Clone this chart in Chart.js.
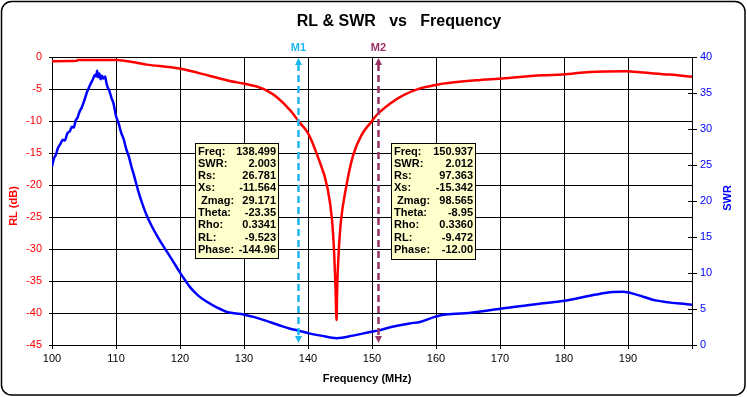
<!DOCTYPE html>
<html>
<head>
<meta charset="utf-8">
<script src="https://cdn.jsdelivr.net/npm/chart.js@4/dist/chart.umd.min.js"></script>
<style>
  html, body { margin: 0; padding: 0; background: #fff; }
  canvas { display: block; }
</style>
</head>
<body>
<canvas id="chart" width="747" height="397"></canvas>
<script>
  // return loss (dB) vs frequency (MHz)
  const rlFreq = [100, 103.9, 104, 110, 114.8, 119.9, 124.7, 127.8, 129.9, 132.2, 133.5, 135.1, 137.2,
    138.58, 140.04, 141.44, 143.06, 143.78, 144.1, 144.3, 144.46, 144.56, 144.77, 145.14, 145.92,
    147.06, 148.36, 149.92, 150.7, 152.8, 154.85, 157.5, 159.8, 161.1, 166.3, 169.8, 176.7, 179.8,
    184.0, 189.7, 192.3, 196.5, 200];
  const rlValues = [-0.65, -0.6, -0.46, -0.46, -1.19, -1.81, -2.96, -3.74, -4.15, -4.68, -5.2, -6.24, -8.3,
    -10.1, -11.96, -15.34, -20.54, -25.74, -30.94, -36.1, -41.1, -36.1, -30.94, -25.74, -20.54,
    -15.34, -12.2, -10.1, -9.1, -7.3, -6.0, -4.9, -4.4, -4.16, -3.64, -3.38, -2.86, -2.75,
    -2.34, -2.23, -2.44, -2.75, -3.1];

  // SWR vs frequency (MHz)
  const swrFreq = [100, 100.3, 100.6, 100.9, 101.3, 101.7, 102.0, 102.4, 102.8, 103.1, 103.4, 103.7, 104.0,
    104.3, 104.6, 104.9, 105.2, 105.5, 105.8, 106.1, 106.4, 106.7, 106.9, 107.05, 107.2, 107.4, 107.6,
    107.8, 108.0, 108.3, 108.5, 108.7, 109.0, 109.3, 109.6, 110.0, 110.4, 110.8, 111.2, 111.6, 112.0,
    112.4, 112.8, 113.5, 114.2, 114.8, 115.6, 116.4, 117.2, 118.0, 119.0, 119.9, 120.8, 121.6, 122.8,
    124.2, 125.8, 127.3, 128.5, 129.9, 131.5, 133.5, 135.6, 137.2, 138.5, 140.0, 142.0, 144.5, 147.0,
    149.9, 150.9, 153.0, 155.9, 157.5, 159.8, 161.1, 164.5, 169.8, 176.7, 179.8, 185.0, 187.6, 189.2,
    191.3, 194.3, 200];
  const swrValues = [24.8, 25.9, 26.4, 27.3, 27.9, 28.5, 28.4, 29.4, 29.7, 30.3, 30.2, 31.2, 31.6,
    32.4, 32.9, 33.6, 34.4, 35.2, 35.8, 36.4, 36.9, 37.5, 37.3, 38.1, 37.2, 37.7, 36.9,
    37.4, 37.0, 37.3, 36.4, 35.8, 35.2, 34.3, 33.6, 31.8, 30.8, 29.5, 28.6, 27.2, 26.2,
    24.8, 23.6, 21.3, 19.4, 18.0, 16.5, 15.2, 14.0, 12.9, 11.5, 10.2, 9.0, 8.0, 6.9,
    6.0, 5.2, 4.6, 4.4, 4.25, 3.9, 3.35, 2.7, 2.25, 2.0, 1.65, 1.3, 0.95, 1.3,
    1.85, 2.0, 2.5, 3.0, 3.2, 3.9, 4.2, 4.4, 5.0, 5.8, 6.1, 7.0, 7.35, 7.4,
    7.0, 6.2, 5.6];

  // markers and their readouts
  const markerNames = ['M1', 'M2'];
  const markerFreqs = [138.499, 150.937];
  const markerColors = ['#1DB6EE', '#993366'];
  const readoutLabels = ['Freq:', 'SWR:', 'Rs:', 'Xs:', ' Zmag:', 'Theta:', 'Rho:', 'RL:', 'Phase:'];
  const m1Readout = ['138.499', '2.003', '26.781', '-11.564', '29.171', '-23.35', '0.3341', '-9.523', '-144.96'];
  const m2Readout = ['150.937', '2.012', '97.363', '-15.342', '98.565', '-8.95', '0.3360', '-9.472', '-12.00'];

  const FONT = 'Arial, "Liberation Sans", sans-serif';

  const overlay = {
    id: 'overlay',
    beforeDraw(chart) {
      const ctx = chart.ctx;
      ctx.save();
      ctx.fillStyle = '#fff';
      ctx.fillRect(0, 0, chart.width, chart.height);
      ctx.restore();
    },
    afterDatasetsDraw(chart) {
      const ctx = chart.ctx;
      const area = chart.chartArea;
      const xs = chart.scales.x;
      ctx.save();

      // SWR axis ticks also poke into the plot a little
      const y2 = chart.scales.y2;
      ctx.strokeStyle = '#000';
      ctx.lineWidth = 1;
      y2.ticks.forEach(t => {
        const y = Math.round(y2.getPixelForValue(t.value)) + 0.5;
        ctx.beginPath();
        ctx.moveTo(area.right - 4, y);
        ctx.lineTo(area.right, y);
        ctx.stroke();
      });

      markerFreqs.forEach((f, i) => {
        const x = Math.round(xs.getPixelForValue(f)) + 0.5;
        ctx.strokeStyle = markerColors[i];
        ctx.fillStyle = markerColors[i];
        ctx.lineWidth = 2.5;
        ctx.setLineDash([7, 4]);
        ctx.beginPath();
        ctx.moveTo(x, area.top + 7);
        ctx.lineTo(x, area.bottom - 7);
        ctx.stroke();
        ctx.setLineDash([]);
        // arrow heads
        ctx.beginPath();
        ctx.moveTo(x, area.top + 1);
        ctx.lineTo(x - 3.5, area.top + 8);
        ctx.lineTo(x + 3.5, area.top + 8);
        ctx.closePath();
        ctx.fill();
        ctx.beginPath();
        ctx.moveTo(x, area.bottom - 2);
        ctx.lineTo(x - 3.5, area.bottom - 9);
        ctx.lineTo(x + 3.5, area.bottom - 9);
        ctx.closePath();
        ctx.fill();
        ctx.font = 'bold 11px ' + FONT;
        ctx.textAlign = 'center';
        ctx.textBaseline = 'middle';
        ctx.fillText(markerNames[i], x, area.top - 9);
      });

      // readout boxes
      const x1 = xs.getPixelForValue(markerFreqs[0]);
      const x2 = xs.getPixelForValue(markerFreqs[1]);
      const drawBox = (left, right, top, bottom, values) => {
        ctx.fillStyle = '#FFFFCC';
        ctx.fillRect(left, top, right - left, bottom - top);
        ctx.strokeStyle = '#000';
        ctx.lineWidth = 1;
        ctx.strokeRect(left + 0.5, top + 0.5, right - left - 1, bottom - top - 1);
        ctx.fillStyle = '#000';
        ctx.font = 'bold 11px ' + FONT;
        ctx.textBaseline = 'middle';
        readoutLabels.forEach((lab, r) => {
          const y = top + 8.5 + r * 12.3;
          ctx.textAlign = 'left';
          ctx.fillText(lab, left + 3, y);
          ctx.textAlign = 'right';
          ctx.fillText(values[r], right - 3, y);
        });
      };
      drawBox(Math.round(x1 - 103), Math.round(x1 - 19), 143, 259, m1Readout);
      drawBox(Math.round(x2 + 13), Math.round(x2 + 98), 143, 260, m2Readout);
      ctx.restore();
    },
    afterDraw(chart) {
      const ctx = chart.ctx;
      ctx.save();
      ctx.fillStyle = '#000';
      ctx.textAlign = 'center';
      ctx.textBaseline = 'middle';
      ctx.font = 'bold 16px ' + FONT;
      ctx.fillText('RL & SWR   vs   Frequency', 399, 22);
      ctx.font = 'bold 11px ' + FONT;
      ctx.fillText('Frequency (MHz)', 367, 379);

      ctx.fillStyle = '#FF0000';
      ctx.translate(14, 206);
      ctx.rotate(-Math.PI / 2);
      ctx.fillText('RL (dB)', 0, 0);
      ctx.setTransform(1, 0, 0, 1, 0, 0);
      ctx.fillStyle = '#0000FF';
      ctx.translate(728, 198);
      ctx.rotate(-Math.PI / 2);
      ctx.fillText('SWR', 0, 0);
      ctx.setTransform(1, 0, 0, 1, 0, 0);

      // rounded frame around the whole chart
      ctx.strokeStyle = '#000';
      ctx.lineWidth = 1.5;
      ctx.beginPath();
      ctx.roundRect(1.5, 1.5, chart.width - 3.5, chart.height - 3.5, 10);
      ctx.stroke();
      ctx.restore();
    }
  };

  new Chart(document.getElementById('chart'), {
    type: 'line',
    data: {
      datasets: [{
        label: 'RL',
        data: rlFreq.map((f, i) => ({ x: f, y: rlValues[i] })),
        borderColor: '#FF0000',
        borderWidth: 2.5,
        pointRadius: 0,
        cubicInterpolationMode: 'monotone',
        yAxisID: 'y'
      }, {
        label: 'SWR',
        data: swrFreq.map((f, i) => ({ x: f, y: swrValues[i] })),
        borderColor: '#0000FF',
        borderWidth: 2.5,
        pointRadius: 0,
        cubicInterpolationMode: 'monotone',
        yAxisID: 'y2'
      }]
    },
    options: {
      responsive: false,
      animation: false,
      layout: { padding: { top: 57, left: 0, right: 0, bottom: 0 } },
      plugins: {
        legend: { display: false },
        tooltip: { enabled: false },
        title: { display: false }
      },
      scales: {
        x: {
          type: 'linear',
          min: 100,
          max: 200,
          afterFit: s => { s.height = 52; },
          grid: { color: '#000', tickLength: 4 },
          border: { color: '#000' },
          ticks: {
            stepSize: 10,
            autoSkip: false,
            maxRotation: 0,
            padding: 3,
            color: '#000',
            font: { family: FONT, size: 11 },
            callback: v => (v === 200 ? '' : v)
          }
        },
        y: {
          position: 'left',
          min: -45,
          max: 0,
          afterFit: s => { s.width = 52; },
          grid: { color: '#000', tickLength: 3 },
          border: { color: '#000' },
          ticks: { stepSize: 5, padding: 7, color: '#FF0000', font: { family: FONT, size: 11 } }
        },
        y2: {
          position: 'right',
          min: 0,
          max: 40,
          afterFit: s => { s.width = 55; },
          grid: { drawOnChartArea: false, color: '#000', tickLength: 5 },
          border: { color: '#000' },
          ticks: { stepSize: 5, padding: 3, color: '#0000FF', font: { family: FONT, size: 11 } }
        }
      }
    },
    plugins: [overlay]
  });
</script>
</body>
</html>
